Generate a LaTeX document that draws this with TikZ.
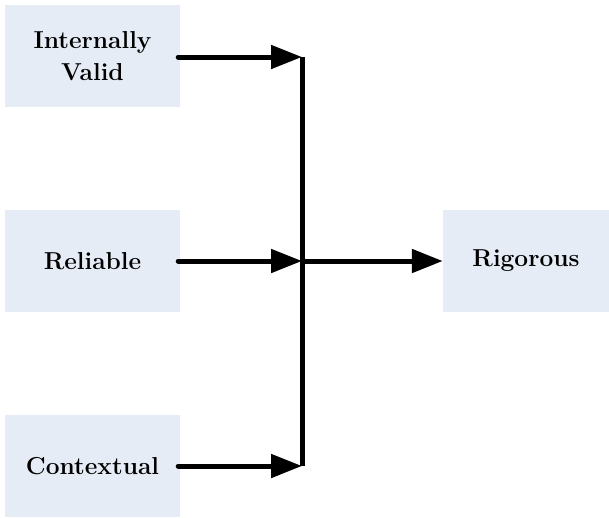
\documentclass[tikz,border=0pt]{standalone}
\usepackage{fontspec}
\setmainfont{Latin Modern Roman}
\usetikzlibrary{arrows.meta}
\begin{document}
\begin{tikzpicture}[x=1pt,y=-1pt,
  box/.style={fill=boxblue,draw=none,minimum width=175pt,minimum height=102pt,inner sep=0pt,align=center,font=\fontsize{24.5}{32}\selectfont\bfseries},
  conn/.style={line width=5pt,line cap=round,-{Triangle[length=31pt,width=23pt,line cap=butt]}}]
\definecolor{boxblue}{HTML}{E6ECF6}
\useasboundingbox (0,0) rectangle (609,517);
\node[box] (iv) at (92.5,56) {Internally\\Valid};
\node[box] (rel) at (92.5,261) {Reliable};
\node[box] (ctx) at (92.5,466) {Contextual};
\node[box,minimum width=166pt] (rig) at (526,261) {Rigorous};
\coordinate (jt) at (302,57);
\coordinate (jm) at (302,261);
\coordinate (jb) at (302,466);
\draw[line width=5pt] (jt) -- (jb);
\draw[conn] ([xshift=-2pt]iv.east |- jt) -- (jt);
\draw[conn] ([xshift=-2pt]rel.east) -- (jm);
\draw[conn] ([xshift=-2pt]ctx.east |- jb) -- (jb);
\draw[conn,line cap=butt] (jm) -- (rig.west);
\end{tikzpicture}
\end{document}
